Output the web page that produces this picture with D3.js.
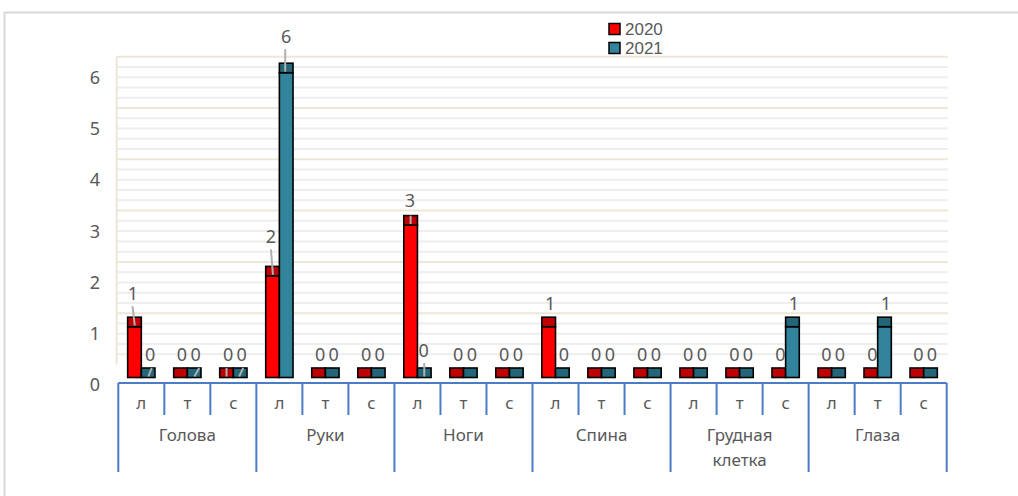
<!DOCTYPE html>
<html>
<head>
<meta charset="utf-8">
<script src="https://cdn.jsdelivr.net/npm/d3@7"></script>
<style>
  html, body { margin: 0; padding: 0; background: #fff; }
  svg { display: block; }
  text { font-family: "Noto Sans", "Open Sans", sans-serif; fill: #595959; }
</style>
</head>
<body>
<svg id="chart" width="1018" height="496"></svg>
<script>
// Body areas and side of injury
const groups = ["Голова", "Руки", "Ноги", "Спина", "Грудная клетка", "Глаза"];
const sides = ["л", "т", "с"];
const seriesNames = ["2020", "2021"];
const values2020 = [1, 0, 0, 2, 0, 0, 3, 0, 0, 1, 0, 0, 0, 0, 0, 0, 0, 0];
const values2021 = [0, 0, 0, 6, 0, 0, 0, 0, 0, 0, 0, 0, 0, 0, 1, 0, 1, 0];
const yTicks = [0, 1, 2, 3, 4, 5, 6];

// Colours: front face and top face of each column
const frontColors = ["#FF0000", "#31849B"];
const topColors = ["#C00000", "#236679"];

// Label nudges [slot, series, dx, dy] and leader lines [slot, series, topDx, bottomDx, fromLabel]
const labelNudges = [
  [0, 0, -1.7, -10], [0, 1, 2, 0], [3, 0, -1.6, -16], [3, 1, 0, -13],
  [6, 0, -0.6, -2], [6, 1, -0.5, -4]
];
const leaders = [
  [0, 0, -2, 0.3, true], [0, 1, 3.6, 0.2, false], [1, 1, 5, 0.3, false],
  [2, 0, 0, 0, false], [2, 1, 3, -1, false], [3, 0, -1.6, 0.4, true],
  [3, 1, -1, -1, true], [6, 0, 0, 0, false], [6, 1, 0, 0, true]
];

const svg = d3.select("#chart");

// outer chart frame
svg.append("path")
  .attr("d", "M4.5,1000 V12.5 H1100")
  .attr("fill", "none").attr("stroke", "#d9d9d9").attr("stroke-width", 2);

const slots = [];
groups.forEach(g => sides.forEach(s => slots.push(g + "|" + s)));
const series = [values2020, values2021];

const axisLeft = 118.3, axisRight = 946.7, axisY = 383;
const x = d3.scaleBand().domain(slots).range([axisLeft, axisRight]).padding(0);
const xGroup = d3.scaleBand().domain(groups).range([axisLeft, axisRight]).padding(0);

// back wall, front value labels, and columns each have their own vertical mapping
const yWall = d3.scaleLinear().domain([0, 6]).range([364.5, 56.7]);
const yLabel = d3.scaleLinear().domain([0, 6]).range([384, 77]);
const yBar = d3.scaleLinear().domain([0, 6]).range([377.5, 72.7]);
const capH = 9.5;
const barW = 13.65;

// back wall gridlines: minor every 0.2, major every 1
const wallLeft = 116.7, wallRight = 947.7;
const minor = d3.range(0, 30).map(i => i * 0.2).filter(v => Math.abs(v - Math.round(v)) > 1e-6);
svg.append("g").selectAll("line").data(minor).join("line")
  .attr("x1", wallLeft).attr("x2", wallRight)
  .attr("y1", d => yWall(d)).attr("y2", d => yWall(d))
  .attr("stroke", "#eeeeee").attr("stroke-width", 2);
svg.append("g").selectAll("line").data(yTicks.slice(1)).join("line")
  .attr("x1", wallLeft).attr("x2", wallRight)
  .attr("y1", d => yWall(d)).attr("y2", d => yWall(d))
  .attr("stroke", "#ece7d8").attr("stroke-width", 2);
svg.append("line")
  .attr("x1", wallLeft).attr("x2", wallLeft)
  .attr("y1", yWall(6)).attr("y2", yWall(0))
  .attr("stroke", "#ece7d8").attr("stroke-width", 2);

// value axis labels
svg.append("g").selectAll("text").data(yTicks).join("text")
  .attr("x", 95).attr("y", d => yLabel(d))
  .attr("text-anchor", "middle").attr("dominant-baseline", "central")
  .style("font-size", "18px")
  .text(d => d);

// columns
const barX = (i, s) => x(slots[i]) + x.bandwidth() / 2 + (s === 0 ? -barW : 0);
const barCx = (i, s) => barX(i, s) + barW / 2;

const bars = [];
series.forEach((vals, s) => vals.forEach((v, i) => bars.push({ i, s, v })));

const gBars = svg.append("g");
bars.forEach(b => {
  if (b.v > 0) {
    gBars.append("rect")
      .attr("x", barX(b.i, b.s)).attr("y", yBar(b.v))
      .attr("width", barW).attr("height", yBar(0) - yBar(b.v))
      .attr("fill", frontColors[b.s]).attr("stroke", "#000").attr("stroke-width", 1.6);
  }
  gBars.append("rect")
    .attr("x", barX(b.i, b.s)).attr("y", yBar(b.v) - capH)
    .attr("width", barW).attr("height", capH)
    .attr("fill", topColors[b.s]).attr("stroke", "#000").attr("stroke-width", 1.6);
});

// data labels
const nudge = (i, s) => {
  const n = labelNudges.find(d => d[0] === i && d[1] === s);
  return n ? { dx: n[2], dy: n[3] } : { dx: 1.5, dy: 0 };
};
const labelPos = (i, s, v) => {
  const n = nudge(i, s);
  return { x: barCx(i, s) + n.dx, y: yBar(v) - capH - 14 + n.dy };
};

// leader lines under the labels
svg.append("g").selectAll("line").data(leaders).join("line")
  .attr("x1", d => barCx(d[0], d[1]) + d[2])
  .attr("y1", d => {
    const v = series[d[1]][d[0]];
    return d[4] ? labelPos(d[0], d[1], v).y + 13 : yBar(v) - capH;
  })
  .attr("x2", d => barCx(d[0], d[1]) + d[3])
  .attr("y2", d => yBar(series[d[1]][d[0]]) - 1)
  .attr("stroke", "#b0b0b0").attr("stroke-width", 2);

svg.append("g").selectAll("text").data(bars).join("text")
  .attr("x", d => labelPos(d.i, d.s, d.v).x)
  .attr("y", d => labelPos(d.i, d.s, d.v).y)
  .attr("text-anchor", "middle").attr("dominant-baseline", "central")
  .style("font-size", "18px")
  .text(d => d.v);

// category axis: line, side ticks and group dividers
const axisColor = "#4A7CC7";
const gAxis = svg.append("g");
gAxis.append("line")
  .attr("x1", axisLeft).attr("x2", axisRight).attr("y1", axisY).attr("y2", axisY)
  .attr("stroke", axisColor).attr("stroke-width", 2);
slots.forEach((sl, i) => {
  if (i % 3 !== 0) {
    gAxis.append("line")
      .attr("x1", x(sl)).attr("x2", x(sl)).attr("y1", axisY).attr("y2", 415)
      .attr("stroke", axisColor).attr("stroke-width", 2);
  }
});
groups.concat([null]).forEach(g => {
  const gx = g ? xGroup(g) : axisRight;
  gAxis.append("line")
    .attr("x1", gx).attr("x2", gx).attr("y1", axisY).attr("y2", 472)
    .attr("stroke", axisColor).attr("stroke-width", 2);
});

svg.append("g").selectAll("text").data(slots).join("text")
  .attr("x", d => x(d) + x.bandwidth() / 2).attr("y", 402)
  .attr("text-anchor", "middle").attr("dominant-baseline", "central")
  .style("font-size", "17px")
  .text(d => d.split("|")[1]);

const gLabels = svg.append("g");
groups.forEach(g => {
  const words = g.split(" ");
  const t = gLabels.append("text")
    .attr("x", xGroup(g) + xGroup.bandwidth() / 2)
    .attr("text-anchor", "middle")
    .style("font-size", "17px");
  words.forEach((w, k) => {
    t.append("tspan")
      .attr("x", xGroup(g) + xGroup.bandwidth() / 2)
      .attr("y", 441 + k * 25)
      .text(w);
  });
});

// legend
const legend = svg.append("g");
seriesNames.forEach((name, s) => {
  legend.append("rect")
    .attr("x", 609).attr("y", 23.5 + s * 19)
    .attr("width", 11).attr("height", 11)
    .attr("fill", frontColors[s]).attr("stroke", "#000").attr("stroke-width", 1.5);
  legend.append("text")
    .attr("x", 625).attr("y", 29 + s * 19)
    .attr("dominant-baseline", "central")
    .style("font-family", "'Liberation Sans', Arial, sans-serif")
    .style("font-size", "17px")
    .text(name);
});
</script>
</body>
</html>
